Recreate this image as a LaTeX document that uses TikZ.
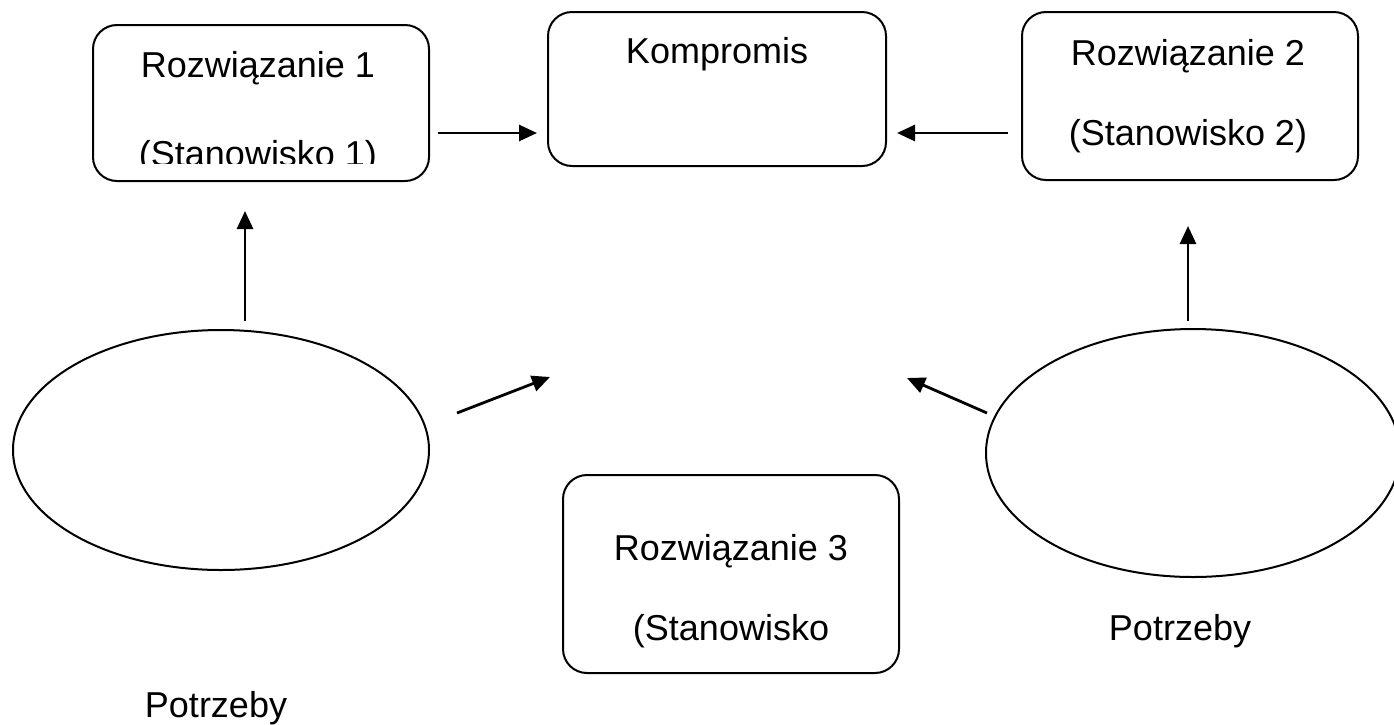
\documentclass[tikz,border=0pt]{standalone}
\usepackage{fontspec}
\setmainfont{Liberation Sans}
\usetikzlibrary{arrows.meta}
\begin{document}
\begin{tikzpicture}[x=1pt,y=-1pt,
  box/.style={draw, line width=2pt, rounded corners=24pt, inner sep=0pt},
  ell/.style={draw, line width=2pt},
  lbl/.style={anchor=base, inner sep=0pt, font=\fontsize{36}{40}\selectfont},
  conn/.style={line width=2.8pt, -{Triangle[length=18pt,width=16pt]}}]
\useasboundingbox (0,0) rectangle (1394,724);
% boxes
\node[box, minimum width=336pt, minimum height=156pt] (r1) at (261,103) {};
\node[box, minimum width=338pt, minimum height=154pt] (k) at (717,89) {};
\node[box, minimum width=336pt, minimum height=168pt] (r2) at (1190,96) {};
\node[box, minimum width=336pt, minimum height=198pt] (r3) at (731,574) {};
% ellipses
\draw[ell] (221,450) ellipse [x radius=208, y radius=120];
\draw[ell] (1193,453) ellipse [x radius=207, y radius=124];
% texts
\node[lbl] (t1a) at (258,77) {Rozwiązanie 1};
\begin{scope}
\clip (93,0) rectangle (429,163);
\node[lbl] (t1b) at (258,166) {(Stanowisko 1)};
\end{scope}
\node[lbl] (tk) at (717,63) {Kompromis};
\node[lbl] (t2a) at (1188,65) {Rozwiązanie 2};
\node[lbl] (t2b) at (1188,145) {(Stanowisko 2)};
\node[lbl] (t3a) at (731,560) {Rozwiązanie 3};
\node[lbl] (t3b) at (731,640) {(Stanowisko};
\node[lbl] (p1) at (216,717) {Potrzeby};
\node[lbl] (p2) at (1180,640) {Potrzeby};
% arrow endpoints
\coordinate (a1s) at (438,133); \coordinate (a1e) at (537,133);
\coordinate (a2s) at (1008,133); \coordinate (a2e) at (897,133);
\coordinate (a3s) at (245,321); \coordinate (a3e) at (245,211);
\coordinate (a4s) at (1188,321); \coordinate (a4e) at (1188,226);
\coordinate (a5s) at (457,413); \coordinate (a5e) at (550,377);
\coordinate (a6s) at (987,413); \coordinate (a6e) at (907,378);
\draw[conn] (a1s) -- (a1e);
\draw[conn] (a2s) -- (a2e);
\draw[conn] (a3s) -- (a3e);
\draw[conn] (a4s) -- (a4e);
\draw[conn] (a5s) -- (a5e);
\draw[conn] (a6s) -- (a6e);
\end{tikzpicture}
\end{document}
